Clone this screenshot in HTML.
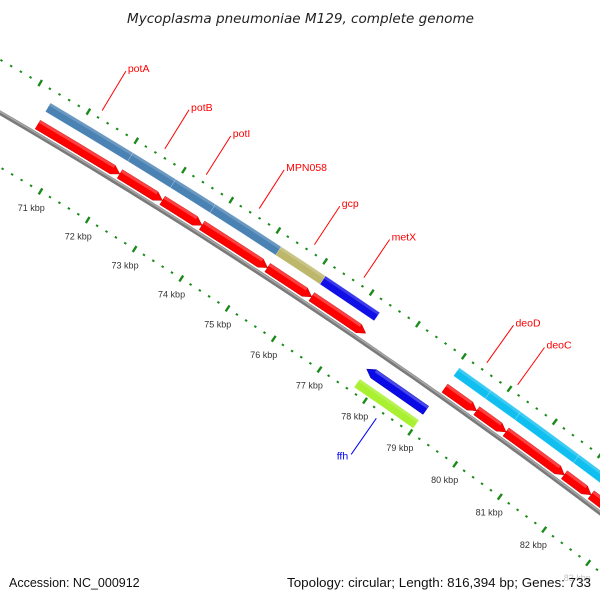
<!DOCTYPE html>
<html><head><meta charset="utf-8"><style>
html,body{margin:0;padding:0;background:#fff;overflow:hidden;width:600px;height:600px;}
svg{display:block;font-family:"Liberation Sans",sans-serif;}
</style></head><body>
<svg id="map" width="600" height="600" viewBox="0 0 600 600" xmlns="http://www.w3.org/2000/svg" overflow="hidden">
<rect width="600" height="600" fill="#fff"/>
<text x="127" y="23" font-family="DejaVu Sans, sans-serif" font-size="13" font-style="italic" fill="#222" textLength="347" lengthAdjust="spacingAndGlyphs">Mycoplasma pneumoniae M129, complete genome</text>
<g id="ticks"></g><g id="backbone"></g><g id="genes"></g><g id="labels"></g>
<text x="9" y="587" font-size="12.5" fill="#111">Accession: NC_000912</text>
<text x="287" y="587" font-size="12.5" fill="#111" textLength="304" lengthAdjust="spacingAndGlyphs">Topology: circular; Length: 816,394 bp; Genes: 733</text>
</svg>
<script>
// gene data (positions in kbp)
const geneNames  = ["potA","potB","potI","MPN058","gcp","metX","ffh","deoD","deoC","g10","g11","g12"];
const geneStarts = [70.34,72.06,72.96,73.8,75.2,76.15,77.7,79.05,79.75,80.4,81.7,82.3];
const geneEnds   = [72.06,72.96,73.8,75.2,76.15,77.32,79.0,79.75,80.4,81.7,82.3,83.4];
const geneStrand = [1,1,1,1,1,1,-1,1,1,1,1,1];
const geneCog    = ["#4a82b4","#4a82b4","#4a82b4","#4a82b4","#bdb76b","#1010e6","#a8f030","#10bff0","#10bff0","#10bff0","#10bff0","#20c8c0"];
const geneLabeled= [1,1,1,1,1,1,1,1,1,0,0,0];
const tickLabelsKbp = [71,72,73,74,75,76,77,78,79,80,81,82,83];

const NS="http://www.w3.org/2000/svg";
const CX=-3029, CY=5306;
function ang(k){return (-59.03+(k-71)*0.53)*Math.PI/180;}
function pt(r,k){const a=ang(k);return [CX+r*Math.cos(a),CY+r*Math.sin(a)];}
function mk(tag,attrs,parent){const e=document.createElementNS(NS,tag);for(const k in attrs)e.setAttribute(k,attrs[k]);parent.appendChild(e);return e;}
function arcPath(r,k0,k1){let d="";for(let i=0;i<=40;i++){const p=pt(r,k0+(k1-k0)*i/40);d+=(i?"L":"M")+p[0].toFixed(1)+","+p[1].toFixed(1);}return d;}

// ticks
const tg=document.getElementById("ticks");
[5965,6058].forEach((R,ri)=>{
  for(let i=670;i<=846;i++){
    const k=i/10; if(i%2) continue;
    const big=(i%10===0);
    const a=pt(R-(big?3.5:1),k), b=pt(R+(big?3.5:1),k);
    if(Math.max(a[1],b[1])>600||Math.min(a[0],b[0])<-5) continue;
    const t=mk("line",{x1:a[0],y1:a[1],x2:b[0],y2:b[1],stroke:"#1a8a1a","stroke-width":2.4},tg);
    
    
  }
});
tickLabelsKbp.forEach(k=>{
  const p=pt(5947,k);
  const t=mk("text",{x:p[0],y:p[1]+4,"text-anchor":"middle","font-size":"9","fill":"#333"},tg);
  if(k===83) t.setAttribute("opacity","0.3");
  t.textContent=k+" kbp";
  
  
});

// backbone
const bg=document.getElementById("backbone");
const bb=mk("path",{d:arcPath(6012,66.5,85),fill:"none",stroke:"#7a7a7a","stroke-width":"4.5"},bg);


const bb2=mk("path",{d:arcPath(6013,66.5,85),fill:"none",stroke:"#a8a8a8","stroke-width":"1.5"},bg);



function poly(pts){return pts.map(p=>p[0].toFixed(1)+","+p[1].toFixed(1)).join(" ");}
function arrowPts(s,e,r1,r2,dir){
  const t=Math.min(0.15,(e-s)/2);const rm=(r1+r2)/2;
  if(dir>0) return [pt(r2,s),pt(r2,(s+e-t)/2),pt(r2,e-t),pt(rm,e),pt(r1,e-t),pt(r1,(s+e-t)/2),pt(r1,s)];
  return [pt(r2,s+t),pt(r2,(s+t+e)/2),pt(r2,e),pt(r1,e),pt(r1,(s+t+e)/2),pt(r1,s+t),pt(rm,s)];
}
function barPts(s,e,r1,r2){return [pt(r2,s),pt(r2,(s+e)/2),pt(r2,e),pt(r1,e),pt(r1,(s+e)/2),pt(r1,s)];}

const gg=document.getElementById("genes"), lg=document.getElementById("labels");
geneNames.forEach((n,i)=>{
  const s=geneStarts[i],e=geneEnds[i],d=geneStrand[i];
  let ar1,ar2,cr1,cr2,acol;
  if(d>0){ar1=6016;ar2=6026;cr1=6036;cr2=6046;acol="#ff0000";}
  else {ar1=5987;ar2=5997;cr1=5970;cr2=5980;acol="#0a0ae6";}
  const a=mk("polygon",{points:poly(arrowPts(s,e,ar1,ar2,d)),fill:acol,stroke:d>0?"#c00000":"#0000a0","stroke-width":"0.5"},gg);
  
  
  const hl=mk("polygon",{points:poly(barPts(s+(d<0?0.15:0),e-(d>0?0.15:0),ar2-3,ar2)),fill:"#fff",opacity:"0.25"},gg);
  
  
  const c=mk("polygon",{points:poly(barPts(s,e,cr1,cr2)),fill:geneCog[i],stroke:"#ffffff","stroke-width":"0.4","stroke-opacity":"0.5"},gg);
  
  
  const h2=mk("polygon",{points:poly(barPts(s,e,cr2-3,cr2)),fill:"#fff",opacity:"0.18"},gg);
  
  
  if(!geneLabeled[i]) return;
  const m=(s+e)/2;
  let p1,p2,col;
  if(d>0){p1=pt(6066,m);p2=pt(6112,m);col="#ff0000";}
  else {p1=pt(5957,m);p2=pt(5913,m);col="#0000ff";}
  const ln=mk("line",{x1:p1[0],y1:p1[1],x2:p2[0],y2:p2[1],stroke:col,"stroke-width":"1"},lg);
  
  
  const t=mk("text",{x:d>0?p2[0]+2:p2[0]-3,y:d>0?p2[1]+1:p2[1]+5,"text-anchor":d>0?"start":"end","font-size":"10.5",fill:col},lg);
  t.textContent=n;
  
  
});
</script>
</body></html>
